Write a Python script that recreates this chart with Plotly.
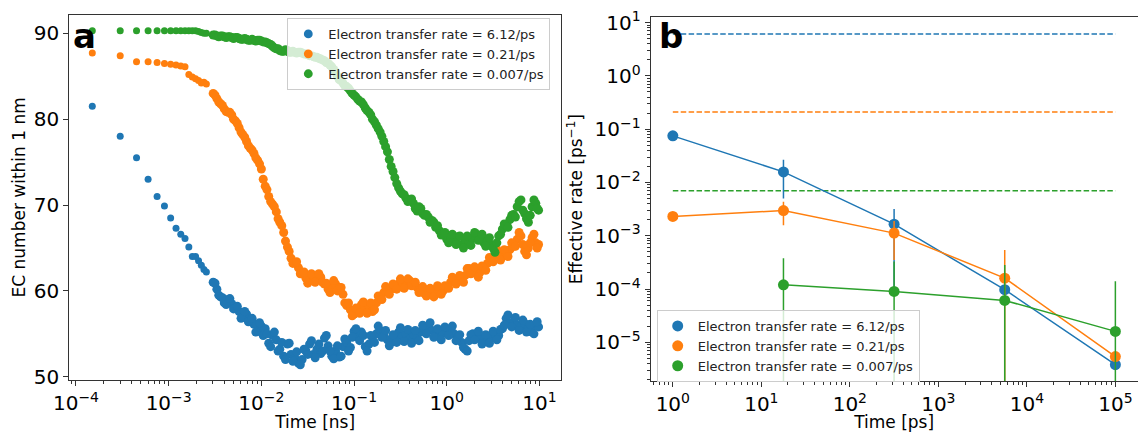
import plotly.graph_objects as go

# ---------------- Panel a data ----------------
time_ns = [0.00015, 0.0003, 0.00045, 0.0006, 0.00075, 0.0009, 0.00105, 0.0012, 0.00135, 0.0015,
           0.00165, 0.0018, 0.00195, 0.0021, 0.00225, 0.0024, 0.00255,
           0.00302, 0.00331, 0.00363, 0.00398, 0.00437, 0.00479, 0.00525, 0.00575, 0.00631, 0.00692,
           0.00759, 0.00832, 0.00912, 0.0100, 0.0110, 0.0120, 0.0132, 0.0145, 0.0158, 0.0174,
           0.0191, 0.0209, 0.0229, 0.0251, 0.0275, 0.0302, 0.0331, 0.0363, 0.0398, 0.0437,
           0.0479, 0.0525, 0.0575, 0.0631, 0.0692, 0.0759, 0.0832, 0.0912, 0.100, 0.110,
           0.120, 0.132, 0.145, 0.158, 0.174, 0.191, 0.209, 0.229, 0.251, 0.275,
           0.302, 0.331, 0.363, 0.398, 0.437, 0.479, 0.525, 0.575, 0.631, 0.692,
           0.759, 0.832, 0.912, 1.00, 1.10, 1.20, 1.32, 1.45, 1.58, 1.74,
           1.91, 2.09, 2.29, 2.51, 2.75, 3.02, 3.31, 3.63, 3.98, 4.37,
           4.79, 5.25, 5.75, 6.31, 6.92, 7.59, 8.32, 9.12, 9.77]

ec_612 = [81.5, 78.0, 75.5, 73.0, 71.0, 69.9, 68.5, 67.3, 66.6, 66.1,
          65.1, 64.0, 64.0, 63.5, 63.0, 62.5, 62.2,
          61.0, 60.2, 59.3, 58.6, 59.0, 58.5, 58.0, 57.6, 57.0, 57.3,
          56.5, 56.1, 55.3, 55.9, 55.6, 53.9, 54.8, 54.3, 53.2, 52.4,
          53.8, 52.6, 52.2, 51.6, 52.0, 53.0, 53.8, 52.6, 53.2, 52.7,
          54.5, 53.6, 52.4, 53.0, 52.3, 53.5, 54.0, 53.4, 55.3, 54.6,
          55.2, 53.5, 53.8, 54.6, 55.0, 55.4, 54.8, 54.3, 54.0, 54.6,
          55.2, 54.7, 55.0, 54.4, 54.9, 54.5, 55.2, 55.6, 55.9, 55.4,
          55.0, 54.8, 55.1, 55.3, 55.5, 55.0, 54.6, 54.0, 53.2, 54.2,
          55.0, 54.8, 54.5, 54.2, 54.4, 54.6, 55.0, 54.8, 55.6, 56.8,
          56.2, 56.4, 56.0, 55.8, 56.2, 55.6, 55.2, 56.0, 55.8]

ec_021 = [87.7, 87.4, 86.7, 86.7, 86.6, 86.5, 86.4, 86.3, 86.2, 86.1,
          85.2, 84.9, 84.7, 84.5, 84.2, 84.3, 84.1,
          83.0, 82.4, 81.8, 81.2, 80.8, 80.5, 79.8, 79.0, 78.2, 77.4,
          76.6, 76.0, 75.2, 74.2, 72.2, 71.0, 70.1, 69.2, 68.0, 66.8,
          65.1, 63.8, 63.3, 62.7, 62.0, 61.5, 61.2, 61.8, 61.4, 61.6,
          60.8, 60.2, 60.6, 60.8, 60.4, 59.6, 58.3, 57.8, 57.3, 57.6,
          58.4, 57.9, 58.2, 57.6, 58.6, 59.2, 59.8, 60.0, 60.2, 60.5,
          60.8, 61.0, 60.6, 61.2, 60.9, 60.4, 60.2, 59.7, 60.1, 59.6,
          60.0, 60.2, 60.0, 60.5, 61.0, 61.2, 61.4, 61.2, 61.8, 62.6,
          62.3, 62.0, 62.2, 62.6, 63.2, 63.6, 64.2, 64.4, 64.0, 64.4,
          64.8, 65.2, 66.0, 66.4, 64.6, 65.0, 66.2, 65.6, 65.4]

ec_0007 = [90.3, 90.3, 90.3, 90.3, 90.3, 90.3, 90.3, 90.3, 90.3, 90.3,
           90.3, 90.3, 90.3, 90.2, 90.1, 90.0, 90.0,
           89.8, 89.7, 89.7, 89.6, 89.6, 89.5, 89.5, 89.4, 89.3, 89.3,
           89.2, 89.2, 89.2, 89.1, 89.0, 88.8, 88.5, 88.2, 88.0, 87.9,
           88.0, 87.8, 87.8, 87.8, 87.7, 87.6, 87.4, 87.3, 87.2, 87.0,
           86.8, 86.5, 86.1, 85.5, 84.6, 84.2, 83.8, 83.3, 82.8, 82.3,
           82.0, 81.3, 80.8, 80.0, 79.3, 78.5, 77.4, 76.2, 74.5, 73.2,
           72.0, 71.3, 70.8, 70.6, 70.2, 69.3, 69.6, 68.8, 68.6, 68.2,
           67.4, 67.0, 66.6, 66.0, 66.4, 65.8, 66.3, 65.4, 65.9, 65.6,
           66.1, 66.6, 66.2, 65.6, 66.0, 65.4, 64.5, 66.4, 67.2, 67.6,
           68.3, 68.9, 69.8, 70.6, 69.0, 68.0, 69.8, 70.2, 69.4]

# extra frames read between the ones above (the dense part of the trajectories)
time_ns_mid = [0.00316, 0.00347, 0.00380, 0.00417, 0.00457, 0.00501, 0.00550, 0.00603, 0.00661, 0.00724,
               0.00794, 0.00871, 0.00955, 0.01047, 0.01148, 0.01259, 0.01380, 0.01514, 0.01660, 0.01820,
               0.01995, 0.02188, 0.02399, 0.02630, 0.02884, 0.03162, 0.03467, 0.03802, 0.04169, 0.04571,
               0.05012, 0.05495, 0.06026, 0.06607, 0.07244, 0.07943, 0.08710, 0.09550, 0.1047, 0.1148,
               0.1259, 0.1380, 0.1514, 0.1660, 0.1820, 0.1995, 0.2188, 0.2399, 0.2630, 0.2884,
               0.3162, 0.3467, 0.3802, 0.4169, 0.4571, 0.5012, 0.5495, 0.6026, 0.6607, 0.7244,
               0.7943, 0.8710, 0.9550, 1.047, 1.148, 1.259, 1.380, 1.514, 1.660, 1.820,
               1.995, 2.188, 2.399, 2.630, 2.884, 3.162, 3.467, 3.802, 4.169, 4.571,
               5.012, 5.495, 6.026, 6.607, 7.244, 7.943, 8.710, 9.44]

ec_612_mid = [60.9, 59.5, 59.2, 58.4, 59.1, 57.9, 58.2, 56.8, 57.6, 56.4,
              56.8, 55.2, 56.3, 54.8, 55.0, 53.5, 55.2, 53.0, 54.0, 52.0,
              53.9, 51.8, 52.9, 51.4, 53.2, 52.6, 54.2, 52.2, 53.8, 53.0,
              54.8, 53.0, 52.1, 53.6, 52.4, 54.4, 53.0, 54.6, 55.6, 54.2,
              54.8, 53.0, 54.8, 54.0, 55.9, 54.6, 55.4, 53.6, 54.9, 54.0,
              55.7, 54.1, 55.5, 53.9, 55.4, 54.2, 56.0, 55.0, 56.3, 54.6,
              55.6, 54.3, 55.8, 54.8, 55.9, 54.2, 54.9, 53.4, 53.0, 54.9,
              54.3, 55.3, 53.8, 54.9, 53.9, 55.3, 54.3, 55.5, 56.0, 57.2,
              55.8, 56.9, 55.4, 56.6, 55.2, 56.1, 55.0, 56.4]

ec_021_mid = [82.8, 82.0, 81.6, 80.9, 80.8, 80.0, 79.5, 78.5, 77.9, 76.9,
              76.4, 75.5, 74.8, 73.0, 71.8, 70.4, 69.8, 68.4, 67.6, 65.8,
              64.6, 63.2, 63.4, 62.0, 62.2, 60.9, 62.0, 61.0, 62.0, 61.0,
              60.9, 59.8, 61.2, 60.0, 60.4, 58.6, 58.6, 57.1, 58.0, 57.4,
              58.7, 57.4, 58.6, 57.8, 59.4, 59.0, 60.5, 59.6, 60.8, 60.2,
              61.4, 60.3, 61.4, 60.6, 61.0, 59.8, 60.5, 59.4, 60.3, 59.3,
              60.6, 59.6, 60.6, 60.3, 61.6, 60.8, 61.8, 61.0, 62.6, 62.0,
              62.8, 61.6, 62.9, 62.4, 63.9, 63.4, 64.8, 63.6, 64.8, 64.0,
              65.6, 65.2, 66.8, 65.4, 64.2, 65.6, 66.6, 65.0]

ec_0007_mid = [89.8, 89.6, 89.7, 89.5, 89.6, 89.4, 89.5, 89.3, 89.4, 89.2,
               89.3, 89.1, 89.2, 89.0, 88.9, 88.7, 88.3, 88.2, 87.9, 88.1,
               87.8, 87.9, 87.7, 87.8, 87.6, 87.5, 87.4, 87.2, 87.1, 86.9,
               86.6, 86.3, 85.8, 85.0, 84.5, 83.9, 83.6, 83.0, 82.6, 82.1,
               81.7, 81.0, 80.5, 79.7, 78.9, 78.0, 76.8, 75.3, 73.9, 72.5,
               71.6, 71.2, 70.4, 70.7, 69.6, 69.8, 69.0, 68.9, 68.0, 68.0,
               67.6, 66.5, 66.8, 65.6, 66.6, 65.4, 66.4, 65.0, 66.4, 65.3,
               66.8, 65.9, 66.6, 65.2, 66.2, 65.0, 65.6, 66.6, 67.8, 67.4,
               68.8, 68.6, 70.4, 69.4, 68.4, 68.8, 70.6, 69.6]

N_EARLY = 17  # individually resolved early frames

for arr in (ec_612, ec_021, ec_0007):
    assert len(arr) == len(time_ns), len(arr)
for arr in (ec_612_mid, ec_021_mid, ec_0007_mid):
    assert len(arr) == len(time_ns_mid), len(arr)

# ---------------- Panel b data ----------------
time_ps = [1, 17.78, 316.2, 5623, 100000]
rate_612 = [0.075, 0.0158, 0.00165, 9.7e-5, 3.8e-6]
rate_612_err = [0, 0.0108, 0.00154, 0, 0]
rate_021 = [0.0023, 0.00297, 0.00112, 1.6e-4, 5.4e-6]
rate_021_err = [0, 0.0014, 0.00077, 0.00038, 0]
rate_0007 = [None, 1.2e-4, 9.0e-5, 6.1e-5, 1.6e-5]
rate_0007_err = [0, 2.6e-4, 2.4e-4, 2.2e-4, 1.24e-4]
true_rates = [6.12, 0.21, 0.007]

labels = ["Electron transfer rate = 6.12/ps",
          "Electron transfer rate = 0.21/ps",
          "Electron transfer rate = 0.007/ps"]
colors = ["#1f77b4", "#ff7f0e", "#2ca02c"]

FONT = "DejaVu Sans"
W, H = 1138, 432

fig = go.Figure()

# Panel a
n_dense = len(time_ns) - N_EARLY + len(time_ns_mid)
sizes = [7] * N_EARLY + [9] * n_dense
for vals, vals_mid, lab, col in zip([ec_612, ec_021, ec_0007],
                                    [ec_612_mid, ec_021_mid, ec_0007_mid], labels, colors):
    fig.add_trace(go.Scatter(x=time_ns + time_ns_mid, y=vals + vals_mid, mode="markers", name=lab,
                             marker=dict(size=sizes, color=col, opacity=1, line=dict(width=0)),
                             xaxis="x", yaxis="y", legend="legend"))

# Panel b: dashed reference lines
for r, col in zip(true_rates, colors):
    fig.add_trace(go.Scatter(x=[time_ps[0], time_ps[-1]], y=[r, r], mode="lines",
                             line=dict(color=col, width=1.5, dash="5.5px,2.4px"),
                             showlegend=False, hoverinfo="skip",
                             xaxis="x2", yaxis="y2"))

for vals, errs, lab, col in zip([rate_612, rate_021, rate_0007],
                                [rate_612_err, rate_021_err, rate_0007_err], labels, colors):
    fig.add_trace(go.Scatter(x=time_ps, y=vals, mode="lines",
                             line=dict(color=col, width=1.5),
                             error_y=dict(type="data", array=errs, symmetric=True,
                                          thickness=1.5, width=0, color=col),
                             showlegend=False, xaxis="x2", yaxis="y2"))
    fig.add_trace(go.Scatter(x=time_ps, y=vals, mode="markers", name=lab,
                             marker=dict(size=11, color=col, line=dict(width=0)),
                             xaxis="x2", yaxis="y2", legend="legend2"))


def sup(e):
    return "10<sup>" + ("\u2212" if e < 0 else "") + str(abs(e)) + "</sup>"


def minors(e0, e1):
    return [m * 10 ** e for e in range(e0, e1) for m in range(2, 10)]


axis_common = dict(showline=True, linecolor="#333", linewidth=1, mirror=True,
                   ticks="outside", ticklen=5, tickwidth=1, tickcolor="#333",
                   showgrid=False, zeroline=False, automargin=False,
                   tickfont=dict(family=FONT, size=20, color="black"))
minor_style = dict(ticks="outside", ticklen=3, tickwidth=0.8, tickcolor="#333", tickmode="array")
title_font = dict(family=FONT, size=17, color="black")

xe1 = list(range(-4, 2))
fig.update_layout(
    xaxis=dict(axis_common, type="log", domain=[69.3 / W, 561 / W], range=[-4.072, 1.232],
               tickmode="array", tickvals=[10 ** e for e in xe1], ticktext=[sup(e) for e in xe1],
               minor=dict(minor_style, tickvals=minors(-5, 2)),
               title=dict(text="Time [ns]", font=title_font, standoff=8),
               anchor="y"),
    yaxis=dict(axis_common, domain=[1 - 380 / H, 1 - 14.7 / H], range=[49.62, 92.17],
               tickmode="array", tickvals=[50, 60, 70, 80, 90],
               title=dict(text="EC number within 1 nm", font=title_font, standoff=3),
               anchor="x"),
    xaxis2=dict(axis_common, type="log", domain=[650.7 / W, 1137.5 / W], range=[-0.25, 5.25],
                tickmode="array", tickvals=[10 ** e for e in range(0, 6)], ticktext=[sup(e) for e in range(0, 6)],
                minor=dict(minor_style, tickvals=minors(-1, 6)),
                title=dict(text="Time [ps]", font=title_font, standoff=8),
                anchor="y2"),
    yaxis2=dict(axis_common, type="log", domain=[1 - 381 / H, 1 - 17.3 / H], range=[-5.727, 1.101],
                tickmode="array", tickvals=[10 ** e for e in range(-5, 2)], ticktext=[sup(e) for e in range(-5, 2)],
                minor=dict(minor_style, tickvals=minors(-6, 2)),
                title=dict(text="Effective rate [ps<sup>\u22121</sup>]", font=title_font, standoff=7),
                anchor="x2"),
    legend=dict(x=287.3 / W, y=1 - 18 / H, xanchor="left", yanchor="top",
                bgcolor="rgba(255,255,255,0.8)", bordercolor="#cccccc", borderwidth=1,
                font=dict(family=FONT, size=13, color="#222")),
    legend2=dict(x=656.7 / W, y=1 - 310 / H, xanchor="left", yanchor="top",
                 bgcolor="rgba(255,255,255,0.8)", bordercolor="#cccccc", borderwidth=1,
                 font=dict(family=FONT, size=13, color="#222")),
    annotations=[
        dict(text="<b>a</b>", x=71 / W, y=1 - 14 / H, xref="paper", yref="paper",
             xanchor="left", yanchor="top", showarrow=False,
             font=dict(family=FONT, size=34, color="black")),
        dict(text="<b>b</b>", x=657 / W, y=1 - 14 / H, xref="paper", yref="paper",
             xanchor="left", yanchor="top", showarrow=False,
             font=dict(family=FONT, size=34, color="black")),
    ],
    width=W, height=H,
    margin=dict(l=0, r=0, t=0, b=0),
    paper_bgcolor="white", plot_bgcolor="white",
    font=dict(family=FONT, color="black"),
)

fig.write_html("out.html")
